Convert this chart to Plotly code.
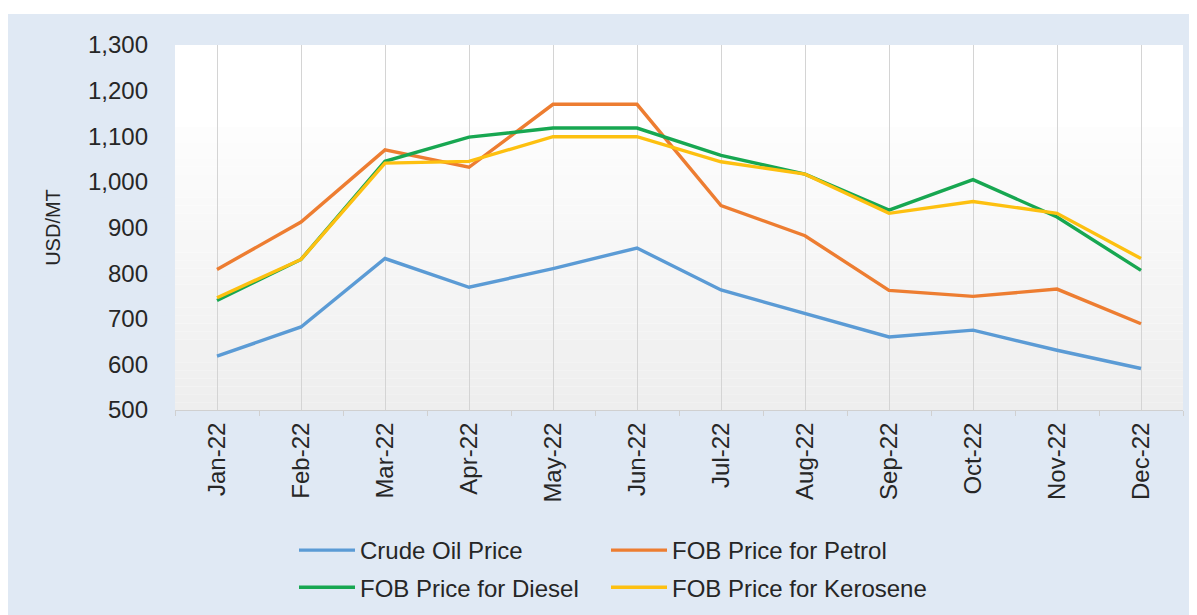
import plotly.graph_objects as go

months = ["Jan-22", "Feb-22", "Mar-22", "Apr-22", "May-22", "Jun-22",
          "Jul-22", "Aug-22", "Sep-22", "Oct-22", "Nov-22", "Dec-22"]
crude = [618, 682, 832, 769, 810, 855, 763, 712, 660, 675, 631, 591]
petrol = [808, 912, 1070, 1032, 1170, 1170, 948, 882, 762, 749, 765, 689]
diesel = [740, 830, 1045, 1098, 1118, 1118, 1058, 1017, 938, 1005, 923, 806]
kerosene = [746, 830, 1041, 1045, 1099, 1099, 1044, 1017, 931, 957, 931, 832]

series = [
    ("Crude Oil Price", crude, "#5b9bd5", "legend"),
    ("FOB Price for Petrol", petrol, "#ed7d31", "legend2"),
    ("FOB Price for Diesel", diesel, "#17a751", "legend"),
    ("FOB Price for Kerosene", kerosene, "#fdc010", "legend2"),
]

W, H = 1197, 615
ML, MT = 167, 37
PW, PH = 1008, 365
MR, MB = W - ML - PW, H - MT - PH


def px_x(px):
    return (px - ML) / PW


def px_y(py):
    return (MT + PH - py) / PH


xs = list(range(len(months)))
fig = go.Figure()
for name, vals, color, leg in series:
    fig.add_trace(go.Scatter(x=xs, y=vals, name=name, mode="lines",
                             line=dict(color=color, width=3.4),
                             legend=leg, legendgroup=name))

shapes = []
# outer light-blue panel
shapes.append(dict(type="rect", xref="paper", yref="paper", layer="below",
                   x0=px_x(0), x1=px_x(W + 5), y0=px_y(H + 5), y1=px_y(6),
                   fillcolor="#e0e9f4", line=dict(width=0)))
# plot area white
shapes.append(dict(type="rect", xref="paper", yref="paper", layer="below",
                   x0=0, x1=1, y0=0, y1=1, fillcolor="#ffffff", line=dict(width=0)))
# soft gradient in plot area
n = 36
top = px_y(119)
for i in range(n):
    y0 = top * i / n
    y1 = top * (i + 1) / n
    t = i / (n - 1)
    c = int(round(238 + (253 - 238) * t))
    shapes.append(dict(type="rect", xref="paper", yref="paper", layer="below",
                       x0=0, x1=1, y0=y0, y1=y1,
                       fillcolor=f"rgb({c},{c},{c})", line=dict(width=0)))

font_fam = "Liberation Sans, Arial, sans-serif"
FS = 24
fig.update_layout(
    width=W, height=H,
    margin=dict(l=ML, r=MR, t=MT, b=MB, autoexpand=False),
    paper_bgcolor="#ffffff",
    plot_bgcolor="rgba(0,0,0,0)",
    font=dict(family=font_fam, color="#262626", size=FS),
    shapes=shapes,
    xaxis=dict(
        range=[-0.5, len(months) - 0.5],
        tickmode="array", tickvals=xs, ticktext=months,
        tickangle=-90, tickfont=dict(size=FS),
        showgrid=True, gridcolor="#d4d4d4", gridwidth=1,
        showline=True, linecolor="#d0d0d0", linewidth=1,
        ticks="", ticklabelstandoff=2,
        minor=dict(tickvals=[i - 0.5 for i in range(len(months) + 1)],
                   ticks="outside", ticklen=5, tickcolor="#d0d0d0",
                   showgrid=False),
        zeroline=False, fixedrange=True,
    ),
    yaxis=dict(
        range=[500, 1300], dtick=100, tickformat=",",
        tickfont=dict(size=FS),
        showgrid=False, showline=False, zeroline=False, ticks="",
        ticklabelstandoff=26,
        title=dict(text="USD/MT", font=dict(size=20), standoff=21),
    ),
    legend=dict(
        orientation="v", x=px_x(286), xanchor="left",
        y=px_y(520), yanchor="top", bgcolor="rgba(0,0,0,0)",
        font=dict(size=FS), tracegroupgap=3, itemwidth=56,
    ),
    legend2=dict(
        orientation="v", x=px_x(598), xanchor="left",
        y=px_y(520), yanchor="top", bgcolor="rgba(0,0,0,0)",
        font=dict(size=FS), tracegroupgap=3, itemwidth=56,
    ),
)

fig.write_html("out.html")
